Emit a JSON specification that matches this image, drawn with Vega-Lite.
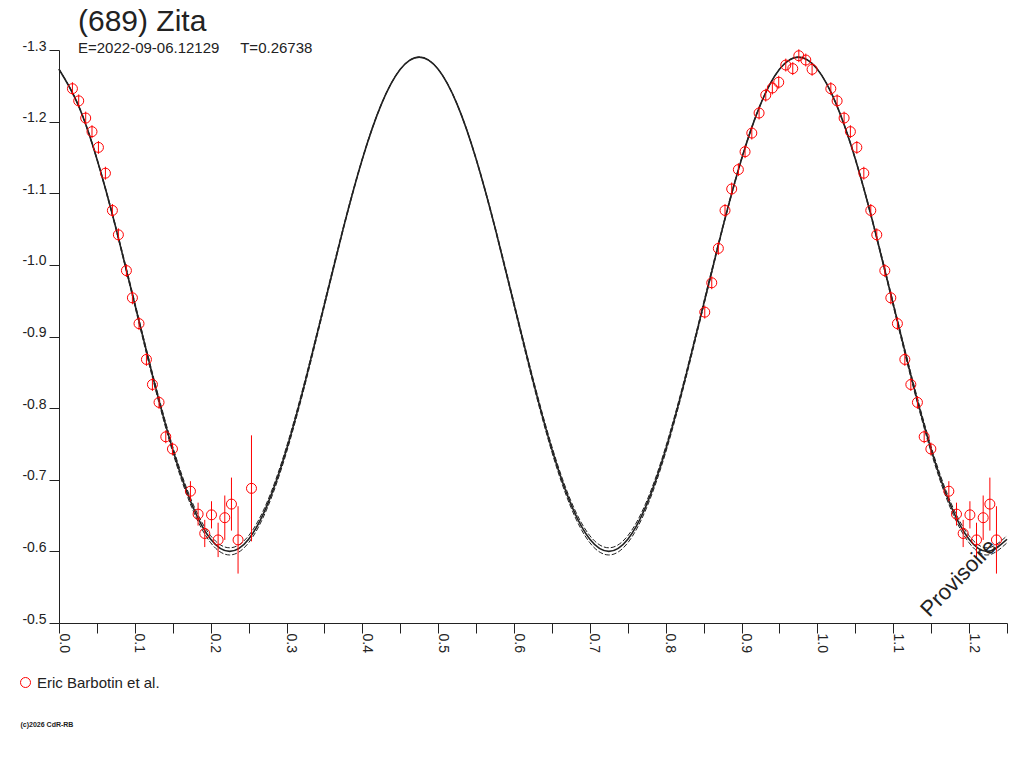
{
  "$schema": "https://vega.github.io/schema/vega-lite/v6.json",
  "autosize": {"type": "none"},
  "width": 948,
  "height": 573,
  "padding": {"left": 59, "top": 50, "right": 17, "bottom": 145},
  "background": "white",
  "config": {
    "view": {"stroke": null},
    "font": "Liberation Sans",
    "axis": {"grid": false, "domainColor": "#222", "tickColor": "#222", "labelColor": "#222", "labelFont": "Liberation Sans", "labelFontSize": 14}
  },
  "title": {
    "text": "(689) Zita",
    "subtitle": "E=2022-09-06.12129\u00a0\u00a0\u00a0\u00a0\u00a0T=0.26738",
    "anchor": "start",
    "frame": "group",
    "dx": 19,
    "offset": -17,
    "font": "Liberation Sans",
    "fontSize": 30,
    "fontWeight": "normal",
    "color": "#222",
    "subtitleFont": "Liberation Sans",
    "subtitleFontSize": 15,
    "subtitleColor": "#222",
    "subtitlePadding": 4
  },
  "datasets": {
    "curve": [
      {"p": 0.000, "m": -1.2731, "a": -1.2732, "b": -1.2730},
      {"p": 0.025, "m": -1.2241, "a": -1.2246, "b": -1.2236},
      {"p": 0.050, "m": -1.1478, "a": -1.1488, "b": -1.1468},
      {"p": 0.075, "m": -1.0516, "a": -1.0533, "b": -1.0499},
      {"p": 0.100, "m": -0.9450, "a": -0.9475, "b": -0.9425},
      {"p": 0.125, "m": -0.8384, "a": -0.8417, "b": -0.8351},
      {"p": 0.150, "m": -0.7422, "a": -0.7462, "b": -0.7382},
      {"p": 0.175, "m": -0.6659, "a": -0.6704, "b": -0.6614},
      {"p": 0.200, "m": -0.6169, "a": -0.6218, "b": -0.6120},
      {"p": 0.225, "m": -0.6000, "a": -0.6050, "b": -0.5950},
      {"p": 0.250, "m": -0.6169, "a": -0.6218, "b": -0.6120},
      {"p": 0.275, "m": -0.6659, "a": -0.6704, "b": -0.6614},
      {"p": 0.300, "m": -0.7422, "a": -0.7462, "b": -0.7382},
      {"p": 0.325, "m": -0.8384, "a": -0.8417, "b": -0.8351},
      {"p": 0.350, "m": -0.9450, "a": -0.9475, "b": -0.9425},
      {"p": 0.375, "m": -1.0516, "a": -1.0533, "b": -1.0499},
      {"p": 0.400, "m": -1.1478, "a": -1.1488, "b": -1.1468},
      {"p": 0.425, "m": -1.2241, "a": -1.2246, "b": -1.2236},
      {"p": 0.450, "m": -1.2731, "a": -1.2732, "b": -1.2730},
      {"p": 0.475, "m": -1.2900, "a": -1.2900, "b": -1.2900},
      {"p": 0.500, "m": -1.2731, "a": -1.2732, "b": -1.2730},
      {"p": 0.525, "m": -1.2241, "a": -1.2246, "b": -1.2236},
      {"p": 0.550, "m": -1.1478, "a": -1.1488, "b": -1.1468},
      {"p": 0.575, "m": -1.0516, "a": -1.0533, "b": -1.0499},
      {"p": 0.600, "m": -0.9450, "a": -0.9475, "b": -0.9425},
      {"p": 0.625, "m": -0.8384, "a": -0.8417, "b": -0.8351},
      {"p": 0.650, "m": -0.7422, "a": -0.7462, "b": -0.7382},
      {"p": 0.675, "m": -0.6659, "a": -0.6704, "b": -0.6614},
      {"p": 0.700, "m": -0.6169, "a": -0.6218, "b": -0.6120},
      {"p": 0.725, "m": -0.6000, "a": -0.6050, "b": -0.5950},
      {"p": 0.750, "m": -0.6169, "a": -0.6218, "b": -0.6120},
      {"p": 0.775, "m": -0.6659, "a": -0.6704, "b": -0.6614},
      {"p": 0.800, "m": -0.7422, "a": -0.7462, "b": -0.7382},
      {"p": 0.825, "m": -0.8384, "a": -0.8417, "b": -0.8351},
      {"p": 0.850, "m": -0.9450, "a": -0.9475, "b": -0.9425},
      {"p": 0.875, "m": -1.0516, "a": -1.0533, "b": -1.0499},
      {"p": 0.900, "m": -1.1478, "a": -1.1488, "b": -1.1468},
      {"p": 0.925, "m": -1.2241, "a": -1.2246, "b": -1.2236},
      {"p": 0.950, "m": -1.2731, "a": -1.2732, "b": -1.2730},
      {"p": 0.975, "m": -1.2900, "a": -1.2900, "b": -1.2900},
      {"p": 1.000, "m": -1.2731, "a": -1.2732, "b": -1.2730},
      {"p": 1.025, "m": -1.2241, "a": -1.2246, "b": -1.2236},
      {"p": 1.050, "m": -1.1478, "a": -1.1488, "b": -1.1468},
      {"p": 1.075, "m": -1.0516, "a": -1.0533, "b": -1.0499},
      {"p": 1.100, "m": -0.9450, "a": -0.9475, "b": -0.9425},
      {"p": 1.125, "m": -0.8384, "a": -0.8417, "b": -0.8351},
      {"p": 1.150, "m": -0.7422, "a": -0.7462, "b": -0.7382},
      {"p": 1.175, "m": -0.6659, "a": -0.6704, "b": -0.6614},
      {"p": 1.200, "m": -0.6169, "a": -0.6218, "b": -0.6120},
      {"p": 1.225, "m": -0.6000, "a": -0.6050, "b": -0.5950},
      {"p": 1.250, "m": -0.6169, "a": -0.6218, "b": -0.6120}
    ],
    "obs": [
      {"p": 0.0177, "mag": -1.246, "err": 0.009},
      {"p": 0.0260, "mag": -1.229, "err": 0.009},
      {"p": 0.0352, "mag": -1.205, "err": 0.009},
      {"p": 0.0435, "mag": -1.186, "err": 0.009},
      {"p": 0.0520, "mag": -1.164, "err": 0.009},
      {"p": 0.0612, "mag": -1.128, "err": 0.009},
      {"p": 0.0704, "mag": -1.076, "err": 0.009},
      {"p": 0.0783, "mag": -1.042, "err": 0.009},
      {"p": 0.0889, "mag": -0.992, "err": 0.009},
      {"p": 0.0968, "mag": -0.954, "err": 0.009},
      {"p": 0.1055, "mag": -0.918, "err": 0.009},
      {"p": 0.1153, "mag": -0.868, "err": 0.009},
      {"p": 0.1232, "mag": -0.833, "err": 0.009},
      {"p": 0.1319, "mag": -0.808, "err": 0.009},
      {"p": 0.1408, "mag": -0.760, "err": 0.009},
      {"p": 0.1496, "mag": -0.743, "err": 0.009},
      {"p": 0.1733, "mag": -0.684, "err": 0.014},
      {"p": 0.1834, "mag": -0.652, "err": 0.016},
      {"p": 0.1922, "mag": -0.625, "err": 0.019},
      {"p": 0.2011, "mag": -0.651, "err": 0.019},
      {"p": 0.2098, "mag": -0.616, "err": 0.024},
      {"p": 0.2186, "mag": -0.647, "err": 0.031},
      {"p": 0.2274, "mag": -0.666, "err": 0.037},
      {"p": 0.2361, "mag": -0.616, "err": 0.047},
      {"p": 0.2538, "mag": -0.688, "err": 0.074},
      {"p": 0.8515, "mag": -0.934, "err": 0.009},
      {"p": 0.8607, "mag": -0.975, "err": 0.009},
      {"p": 0.8694, "mag": -1.023, "err": 0.009},
      {"p": 0.8782, "mag": -1.076, "err": 0.009},
      {"p": 0.8870, "mag": -1.106, "err": 0.009},
      {"p": 0.8958, "mag": -1.133, "err": 0.009},
      {"p": 0.9046, "mag": -1.158, "err": 0.009},
      {"p": 0.9135, "mag": -1.184, "err": 0.009},
      {"p": 0.9231, "mag": -1.212, "err": 0.009},
      {"p": 0.9319, "mag": -1.237, "err": 0.009},
      {"p": 0.9406, "mag": -1.247, "err": 0.009},
      {"p": 0.9490, "mag": -1.255, "err": 0.009},
      {"p": 0.9583, "mag": -1.279, "err": 0.009},
      {"p": 0.9675, "mag": -1.274, "err": 0.009},
      {"p": 0.9755, "mag": -1.292, "err": 0.009},
      {"p": 0.9847, "mag": -1.286, "err": 0.009},
      {"p": 0.9930, "mag": -1.273, "err": 0.009},
      {"p": 1.0177, "mag": -1.246, "err": 0.009},
      {"p": 1.0260, "mag": -1.229, "err": 0.009},
      {"p": 1.0352, "mag": -1.205, "err": 0.009},
      {"p": 1.0435, "mag": -1.186, "err": 0.009},
      {"p": 1.0520, "mag": -1.164, "err": 0.009},
      {"p": 1.0612, "mag": -1.128, "err": 0.009},
      {"p": 1.0704, "mag": -1.076, "err": 0.009},
      {"p": 1.0783, "mag": -1.042, "err": 0.009},
      {"p": 1.0889, "mag": -0.992, "err": 0.009},
      {"p": 1.0968, "mag": -0.954, "err": 0.009},
      {"p": 1.1055, "mag": -0.918, "err": 0.009},
      {"p": 1.1153, "mag": -0.868, "err": 0.009},
      {"p": 1.1232, "mag": -0.833, "err": 0.009},
      {"p": 1.1319, "mag": -0.808, "err": 0.009},
      {"p": 1.1408, "mag": -0.760, "err": 0.009},
      {"p": 1.1496, "mag": -0.743, "err": 0.009},
      {"p": 1.1733, "mag": -0.684, "err": 0.014},
      {"p": 1.1834, "mag": -0.652, "err": 0.016},
      {"p": 1.1922, "mag": -0.625, "err": 0.019},
      {"p": 1.2011, "mag": -0.651, "err": 0.019},
      {"p": 1.2098, "mag": -0.616, "err": 0.024},
      {"p": 1.2186, "mag": -0.647, "err": 0.031},
      {"p": 1.2274, "mag": -0.666, "err": 0.037},
      {"p": 1.2361, "mag": -0.616, "err": 0.047}
    ]
  },
  "encoding": {
    "x": {
      "type": "quantitative",
      "scale": {"domain": [0, 1.25], "nice": false, "zero": false},
      "axis": {
        "title": "(c)2026 CdR-RB",
        "titleFontSize": 7,
        "titleFontWeight": "bold",
        "titleColor": "#222",
        "titleAlign": "left",
        "titleAnchor": "start",
        "titleX": -39,
        "titleY": 97,
        "values": [0, 0.05, 0.1, 0.15, 0.2, 0.25, 0.3, 0.35, 0.4, 0.45, 0.5, 0.55, 0.6, 0.65, 0.7, 0.75, 0.8, 0.85, 0.9, 0.95, 1.0, 1.05, 1.1, 1.15, 1.2, 1.25],
        "labelExpr": "round(datum.value * 20) % 2 === 0 && datum.value < 1.24 ? format(datum.value, '.1f') : ''",
        "labelAngle": 90,
        "labelAlign": "left",
        "labelBaseline": "alphabetic",
        "labelPadding": 0,
        "labelFlush": false,
        "labelOverlap": false,
        "tickSize": 10
      }
    },
    "y": {
      "type": "quantitative",
      "scale": {"domain": [-1.3, -0.5], "nice": false, "zero": false, "reverse": true},
      "axis": {
        "title": null,
        "values": [-1.3, -1.2, -1.1, -1.0, -0.9, -0.8, -0.7, -0.6, -0.5],
        "labelExpr": "'-' + format(abs(datum.value), '.1f')",
        "labelBaseline": "alphabetic",
        "labelPadding": 3,
        "tickSize": 10
      }
    }
  },
  "layer": [
    {
      "data": {"name": "curve"},
      "mark": {"type": "line", "color": "#222", "strokeWidth": 1, "strokeDash": [5, 2], "interpolate": "natural"},
      "encoding": {"x": {"field": "p"}, "y": {"field": "a"}}
    },
    {
      "data": {"name": "curve"},
      "mark": {"type": "line", "color": "#222", "strokeWidth": 1, "strokeDash": [5, 2], "interpolate": "natural"},
      "encoding": {"x": {"field": "p"}, "y": {"field": "b"}}
    },
    {
      "data": {"name": "curve"},
      "mark": {"type": "line", "color": "#222", "strokeWidth": 1.6, "interpolate": "natural"},
      "encoding": {"x": {"field": "p"}, "y": {"field": "m"}}
    },
    {
      "data": {"name": "obs"},
      "mark": {"type": "errorbar", "color": "#ff0000", "thickness": 1},
      "encoding": {"x": {"field": "p"}, "y": {"field": "mag"}, "yError": {"field": "err"}}
    },
    {
      "data": {"name": "obs"},
      "mark": {"type": "point", "shape": "circle", "filled": false, "size": 100, "strokeWidth": 1, "opacity": 1},
      "encoding": {
        "x": {"field": "p"},
        "y": {"field": "mag"},
        "color": {
          "datum": "Eric Barbotin et al.",
          "type": "nominal",
          "scale": {"range": ["#ff0000"]},
          "legend": {
            "orient": "none",
            "legendX": -41,
            "legendY": 625,
            "title": null,
            "labelFont": "Liberation Sans",
            "labelFontSize": 15,
            "labelColor": "#222",
            "symbolSize": 100,
            "symbolStrokeWidth": 1,
            "symbolType": "circle",
            "symbolFillColor": "transparent",
            "symbolStrokeColor": "#ff0000"
          }
        }
      }
    },
    {
      "data": {"values": [{"label": "Provisoire"}]},
      "mark": {"type": "text", "angle": -46, "align": "center", "baseline": "middle", "fontSize": 22, "font": "Liberation Sans", "color": "#222"},
      "encoding": {"x": {"datum": 1.186}, "y": {"datum": -0.563}, "text": {"field": "label"}}
    }
  ]
}
